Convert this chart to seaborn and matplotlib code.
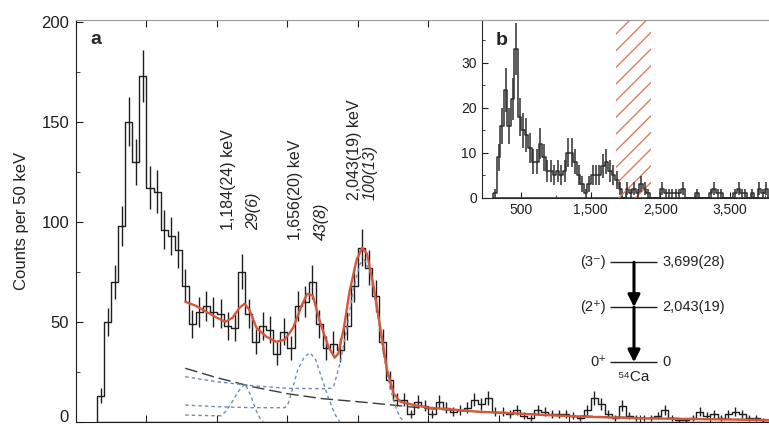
import numpy as np
import pandas as pd
import seaborn as sns
import matplotlib.pyplot as plt
from matplotlib.transforms import ScaledTranslation

sns.set_style('ticks')
plt.rcParams['font.family'] = ['Liberation Sans', 'DejaVu Sans']
plt.rcParams['hatch.linewidth'] = 1.0
plt.rcParams['hatch.color'] = '#e07c62'

# ---- data ----
bin_width = 50

# panel a: counts per 50 keV bin, first bin starts at 150 keV
main_start = 150
main_counts = [13, 50, 70, 98, 150, 130, 173, 117, 115, 96,
               93, 86, 68, 49, 55, 58, 55, 54, 48, 47,
               75, 54, 40, 48, 46, 34, 45, 37, 58, 60,
               70, 49, 37, 39, 36, 48, 68, 87, 77, 63,
               40, 21, 11, 11, 4, 10, 8, 4, 10, 7,
               5, 6, 7, 11, 9, 12, 5, 5, 4, 6,
               3, 2, 6, 5, 4, 4, 4, 3, 2, 6,
               12, 9, 4, 2, 8, 3, 2, 2, 2, 3,
               6, 2, 1, 1, 2, 5, 3, 4, 2, 4,
               5, 4, 2, 2, 1, 1]

# panel b: coincidence spectrum, first bin starts at 100 keV
inset_start = 100
inset_counts = [1, 9, 16, 24, 16, 22, 33, 18, 15, 14,
                11, 8, 8, 12, 9, 6, 6, 5, 6, 5,
                6, 10, 10, 8, 5, 3, 1, 3, 5, 5,
                5, 7, 8, 6, 5, 4, 2, 0, 2, 1,
                2, 1, 3, 2, 1, 0, 0, 0, 2, 1,
                1, 1, 1, 1, 2, 0, 0, 0, 1, 0,
                0, 0, 1, 2, 1, 1, 0, 0, 0, 1,
                2, 1, 1, 0, 1, 0, 2, 1, 2, 0]

# total fit (red)
fit_kev = [775, 850, 925, 1000, 1060, 1110, 1160, 1195, 1230, 1280,
           1350, 1420, 1480, 1540, 1600, 1640, 1680, 1730, 1790, 1835,
           1860, 1900, 1940, 1990, 2030, 2064, 2110, 2158, 2206, 2253,
           2300, 2400, 2500, 2650, 2850, 3100, 3300, 3600, 4000, 4500, 4950]
fit_counts = [60, 58, 55, 52, 50, 52, 57, 59, 56, 47,
              42.5, 40, 41, 47, 58, 64, 63, 50, 37.5, 32,
              34, 47, 65, 81, 87, 84, 68, 47, 26, 14,
              10, 8.3, 7, 6.2, 5, 4.2, 3.4, 2.5, 1.7, 1.2, 0.8]

# exponential background (long dashes)
bg_kev = [775, 1000, 1250, 1500, 1750, 2000, 2250, 2500, 2800, 3100,
          3500, 4000, 4500, 4950]
bg_counts = [26.7, 22, 17.5, 14, 11.5, 10, 8.3, 6.5, 5.2, 4.2,
             3.0, 2.0, 1.3, 0.9]

# simulated response functions (short dashes)
resp_2043_kev = [775, 1000, 1250, 1500, 1750, 1800, 1825, 1872, 1920, 1967,
                 2014, 2045, 2085, 2133, 2180, 2227, 2274, 2300, 2330]
resp_2043 = [22.5, 20, 18, 16.7, 16.5, 16.7, 17, 29, 46, 66,
             79, 81, 75, 57, 34, 17, 6, 2, 0]
resp_1656_kev = [775, 1000, 1250, 1480, 1500, 1526, 1573, 1620, 1660, 1700,
                 1740, 1787, 1834, 1870]
resp_1656 = [8.3, 7.5, 7, 7, 8, 14, 26, 32.5, 34.5, 31,
             22.5, 12.5, 4, 0]
resp_1184_kev = [775, 950, 1030, 1060, 1100, 1150, 1200, 1240, 1275, 1310, 1330]
resp_1184 = [3.3, 3, 3, 5, 9, 15, 19, 13, 6, 1, 0]

peak_labels = ['1,184(24) keV', '1,656(20) keV', '2,043(19) keV']
peak_intensities = ['29(6)', '43(8)', '100(13)']

level_energy = [3699, 2043, 0]
level_spin = ['(3\u207b)', '(2\u207a)', '0\u207a']
level_text = ['3,699(28)', '2,043(19)', '0']
gate_window = [1870, 2370]

# ---- figure ----
fig = plt.figure(figsize=(7.69, 4.25), dpi=100)
ax = fig.add_axes([0.0988, 0.0078, 0.9168, 0.9452])

dark = '#1e1e1e'
red = '#d5573d'
blue = '#6f8cab'


def draw_hist(axis, start, counts, color, lw):
    edges = start + bin_width * np.arange(len(counts) + 1)
    centers = edges[:-1] + bin_width / 2
    df = pd.DataFrame({'energy': centers, 'counts': counts})
    n_before = len(axis.collections)
    sns.histplot(data=df, x='energy', weights='counts', bins=edges.tolist(),
                 element='step', fill=True, color=color, ax=axis)
    # outline only, no fill
    for coll in axis.collections[n_before:]:
        coll.set_facecolor('none')
        coll.set_edgecolor(color)
        coll.set_linewidth(lw)
        coll.set_alpha(1)
    c = np.array(counts, dtype=float)
    axis.errorbar(centers, c, yerr=np.sqrt(c), fmt='none',
                  ecolor=color, elinewidth=lw, capsize=0)


draw_hist(ax, main_start, main_counts, dark, 1.0)

sns.lineplot(x=bg_kev, y=bg_counts, ax=ax, color='#3a3a3a', linewidth=1.0,
             linestyle=(0, (9, 3.5)))
for xs, ys in [(resp_2043_kev, resp_2043), (resp_1656_kev, resp_1656),
               (resp_1184_kev, resp_1184)]:
    sns.lineplot(x=xs, y=ys, ax=ax, color=blue, linewidth=1.0,
                 linestyle=(0, (2.5, 2.2)))
sns.lineplot(x=fit_kev, y=fit_counts, ax=ax, color=red, linewidth=1.7)

ax.set_xlim(0, 5000)
ax.set_ylim(0, 201)
ax.set_xticks(np.arange(0, 5001, 500))
ax.set_yticks([0, 50, 100, 150, 200])
ax.set_yticks([25, 75, 125, 175], minor=True)
ax.tick_params(axis='both', which='both', direction='in', colors=dark)
ax.tick_params(axis='x', top=True, labelbottom=False, length=5)
ax.tick_params(axis='y', which='major', length=5, labelsize=12, pad=5)
ax.tick_params(axis='y', which='minor', length=3)
ax.set_xlabel('')
ax.set_ylabel('Counts per 50 keV', fontsize=12, color='#222222')
ax.yaxis.set_label_coords(-0.067, 0.5)
for s in ['left', 'bottom']:
    ax.spines[s].set_color(dark)
ax.spines['top'].set_color('#9a9a9a')

# the "0" label sits on the bottom edge; lift it a few pixels so it stays inside
fig.canvas.draw()
zero_lab = ax.get_yticklabels()[0]
zero_lab.set_transform(zero_lab.get_transform()
                       + ScaledTranslation(0, 4 / 72, fig.dpi_scale_trans))

ax.text(0.02, 0.972, 'a', transform=ax.transAxes, fontsize=14,
        fontweight='bold', va='top', ha='left')

# peak annotations (rotated)
lab_x = [1085, 1560, 1972]
lab_y = [96, 91, 111]
int_x = [1262, 1738, 2085]
for i in range(3):
    ax.text(lab_x[i], lab_y[i], peak_labels[i], rotation=90, fontsize=11.5,
            ha='center', va='bottom', color='#222222')
    ax.text(int_x[i], lab_y[i], peak_intensities[i], rotation=90,
            fontsize=11.5, style='italic', ha='center', va='bottom',
            color='#222222')

# ---- inset b ----
axb = fig.add_axes([0.6272, 0.5348, 0.3761, 0.4181])
axb.set_facecolor('white')
draw_hist(axb, inset_start, inset_counts, '#2e2e2e', 1.1)
axb.axvspan(gate_window[0], gate_window[1], facecolor='none',
            edgecolor='#e07c62', hatch='//', linewidth=0)
axb.set_xlim(-60, 4100)
axb.set_ylim(0, 39.5)
axb.set_xticks([500, 1500, 2500, 3500])
axb.set_xticklabels(['500', '1,500', '2,500', '3,500'])
axb.set_xticks([1000, 2000, 3000, 4000], minor=True)
axb.set_yticks([0, 10, 20, 30])
axb.set_yticks([5, 15, 25, 35], minor=True)
axb.tick_params(axis='both', which='both', direction='in', colors=dark,
                labelsize=10, pad=4)
axb.tick_params(which='major', length=4)
axb.tick_params(which='minor', length=2.5)
axb.set_xlabel('')
axb.set_ylabel('')
axb.spines['top'].set_color('#9a9a9a')
axb.spines['right'].set_visible(False)
axb.text(0.045, 0.93, 'b', transform=axb.transAxes, fontsize=14,
         fontweight='bold', va='top', ha='left')

# ---- level scheme of 54Ca ----
axl = fig.add_axes([0.7282, 0.08235, 0.2601, 0.3529])
axl.set_xlim(560, 760)
axl.set_ylim(-1025, 4525)
axl.axis('off')
axl.hlines(level_energy, 610, 657, color=dark, linewidth=1.0)
for e, sp, tx in zip(level_energy, level_spin, level_text):
    axl.text(606, e, sp, ha='right', va='center', fontsize=10.5,
             color='#222222')
    axl.text(662, e, tx, ha='left', va='center', fontsize=10.5,
             color='#222222')
for i in range(len(level_energy) - 1):
    axl.annotate('', xy=(634, level_energy[i + 1]),
                 xytext=(634, level_energy[i]),
                 arrowprops=dict(arrowstyle='-|>', color='black', lw=2.2,
                                 mutation_scale=18, shrinkA=0, shrinkB=0))
axl.text(633, -560, '\u2075\u2074Ca', ha='center', va='center',
         fontsize=11, color='#222222')

fig.savefig('out.png', dpi=100)
